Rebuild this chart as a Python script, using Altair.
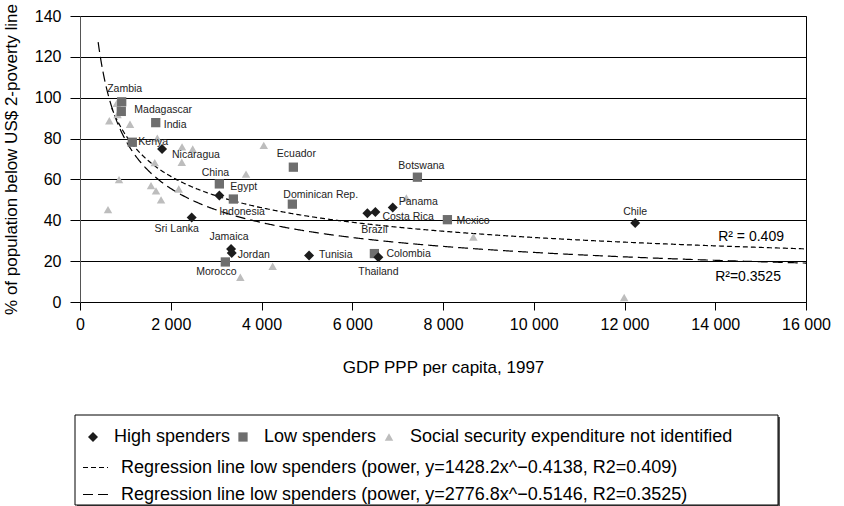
import altair as alt
import pandas as pd

# ---------------------------------------------------------------------------
# Data: GDP PPP per capita (1997) vs. share of population below US$ 2 a day
# ---------------------------------------------------------------------------
GROUPS = ["High spenders", "Low spenders", "Social security expenditure not identified"]

high_countries = ["Nicaragua", "Indonesia", "Sri Lanka", "Jamaica", "Jordan", "Tunisia",
                  "Brazil", "Costa Rica", "Panama", "Thailand", "Chile"]
high_gdp = [1808, 3071, 2462, 3329, 3344, 5048, 6333, 6510, 6893, 6576, 12235]
high_pov = [74.9, 52.1, 41.4, 25.9, 24.0, 22.8, 43.5, 44.0, 46.3, 21.9, 38.7]

low_countries = ["Zambia", "Madagascar", "India", "Kenya", "China", "Egypt", "Ecuador",
                 "Dominican Rep.", "Botswana", "Mexico", "Colombia", "Morocco"]
low_gdp = [919, 910, 1669, 1153, 3071, 3380, 4702, 4680, 7436, 8097, 6488, 3203]
low_pov = [98.0, 93.3, 87.8, 78.2, 57.8, 50.4, 66.0, 47.9, 61.1, 40.3, 23.7, 19.6]

other_gdp = [809, 646, 827, 1102, 1704, 2249, 2484, 2243, 1647, 4050, 3659, 860, 1565,
             1675, 1786, 2176, 617, 4246, 3534, 7193, 8670, 11993]
other_pov = [97.2, 88.7, 91.8, 87.0, 80.2, 75.9, 74.9, 68.4, 68.2, 76.7, 62.6, 59.9, 57.0,
             54.4, 50.0, 55.3, 45.2, 17.5, 12.1, 50.9, 31.8, 2.2]

# Power trendlines y = a * x^b, each drawn from its own starting GDP level
FIT_A = (1428.2, -0.4138)
FIT_B = (2776.8, -0.5146)
FIT_START = {"fit_a": 700, "fit_b": 400}
FIT_LABELS = [
    "Regression line low spenders (power, y=1428.2x^\u22120.4138, R2=0.409)",
    "Regression line low spenders (power, y=2776.8x^\u22120.5146, R2=0.3525)",
]
r2_text = ["R\u00b2 = 0.409", "R\u00b2=0.3525"]
r2_gdp = [14065, 13998]
r2_pov = [32.0, 12.3]

# Country label placement: (align, dx, dy) in pixels
LABEL_STYLE = {
    "Zambia": ("center", 3, -13), "Madagascar": ("left", 13, -1), "India": ("left", 8, 2),
    "Kenya": ("left", 6, 0), "Nicaragua": ("left", 10, 6), "China": ("center", -4, -11),
    "Egypt": ("left", -3, -12), "Indonesia": ("left", 0, 16), "Sri Lanka": ("center", -15, 12),
    "Jamaica": ("center", -2, -12), "Jordan": ("left", 6, 2), "Morocco": ("center", -9, 10),
    "Tunisia": ("left", 10, 0), "Ecuador": ("center", 3, -13), "Dominican Rep.": ("left", -9, -9),
    "Botswana": ("center", 4, -11), "Costa Rica": ("left", 7, 5), "Brazil": ("center", 7, 17),
    "Panama": ("left", 6, -5), "Mexico": ("left", 9, 1), "Colombia": ("left", 12, 0),
    "Thailand": ("center", 0, 15), "Chile": ("center", 0, -11),
}

# ---------------------------------------------------------------------------
pts = pd.concat([
    pd.DataFrame({"country": high_countries, "gdp": high_gdp, "pov": high_pov,
                  "group": GROUPS[0], "rank": 3}),
    pd.DataFrame({"country": low_countries, "gdp": low_gdp, "pov": low_pov,
                  "group": GROUPS[1], "rank": 2}),
    pd.DataFrame({"country": "", "gdp": other_gdp, "pov": other_pov,
                  "group": GROUPS[2], "rank": 1}),
], ignore_index=True)

r2 = pd.DataFrame({"gdp": r2_gdp, "pov": r2_pov, "text": r2_text})

FONT = "Liberation Sans"
W, H = 726, 286

x_scale = alt.Scale(domain=[0, 16000], nice=False, zero=True)
y_scale = alt.Scale(domain=[0, 140], nice=False)

x_axis = alt.Axis(
    values=list(range(0, 16001, 2000)),
    labelExpr="replace(format(datum.value, ','), ',', ' ')",
    grid=False, tickSize=8, labelPadding=6, labelFontSize=16, labelColor="black",
    titleFontSize=17, titleFontWeight="normal", titleColor="black", titlePadding=27,
    domainColor="black", tickColor="black", labelFlush=False,
)
y_axis = alt.Axis(
    values=list(range(0, 141, 20)), grid=True, gridColor="black", gridWidth=1,
    tickSize=10, labelPadding=9, labelFontSize=16, labelColor="black",
    titleFontSize=17, titleFontWeight="normal", titleColor="black", titlePadding=14,
    domainColor="#555555", tickColor="black",
)

x_enc = alt.X("gdp:Q", scale=x_scale, axis=x_axis, title="GDP PPP per capita, 1997")
y_enc = alt.Y("pov:Q", scale=y_scale, axis=y_axis,
              title="% of population below US$ 2-poverty line")

pt_legend = alt.Legend(
    title=None, orient="none", legendX=4, legendY=412, direction="horizontal",
    labelFontSize=18, labelFont=FONT, labelColor="black", symbolSize=50,
    labelOffset=12, columnPadding=3, padding=0, labelLimit=0,
)
fit_legend = alt.Legend(
    title=None, orient="none", legendX=2, legendY=438, direction="vertical",
    labelFontSize=18, labelFont=FONT, labelColor="black", symbolType="stroke",
    symbolSize=625, symbolStrokeWidth=1.2, symbolStrokeColor="black",
    labelOffset=12, rowPadding=4, padding=0, labelLimit=0,
)

# legend frame with a thin shadow
frame_src = pd.DataFrame({"frame": [0]})
shadow = alt.Chart(frame_src).mark_rect(fill="#555555").encode(
    x=alt.value(-3), x2=alt.value(700), y=alt.value(401), y2=alt.value(491))
frame = alt.Chart(frame_src).mark_rect(fill="white", stroke="black", strokeWidth=1).encode(
    x=alt.value(-5), x2=alt.value(698), y=alt.value(399), y2=alt.value(489))

curves = alt.Chart(alt.sequence(400, 16001, 20, as_="gdp")).transform_calculate(
    fit_a=f"datum.gdp >= {FIT_START['fit_a']} ? {FIT_A[0]} * pow(datum.gdp, {FIT_A[1]}) : null",
    fit_b=f"datum.gdp >= {FIT_START['fit_b']} ? {FIT_B[0]} * pow(datum.gdp, {FIT_B[1]}) : null",
).transform_fold(["fit_a", "fit_b"], as_=["fit", "pov"]).transform_filter(
    "isValid(datum.pov)"
).transform_calculate(
    series=f"datum.fit == 'fit_a' ? '{FIT_LABELS[0]}' : '{FIT_LABELS[1]}'"
).mark_line(color="black", strokeWidth=1.2, clip=True).encode(
    x=x_enc, y=y_enc,
    strokeDash=alt.StrokeDash("series:N", legend=fit_legend,
                              scale=alt.Scale(domain=FIT_LABELS, range=[[5, 3], [10, 5]])),
)

points = alt.Chart(pts).mark_point(filled=True, opacity=1, strokeWidth=0).encode(
    x=x_enc, y=y_enc,
    shape=alt.Shape("group:N", legend=pt_legend,
                    scale=alt.Scale(domain=GROUPS, range=["diamond", "square", "triangle-up"])),
    color=alt.Color("group:N", legend=pt_legend,
                    scale=alt.Scale(domain=GROUPS, range=["#1c1c1c", "#6e6e6e", "#bdbdbd"])),
    size=alt.Size("group:N", legend=None,
                  scale=alt.Scale(domain=GROUPS, range=[100, 72, 100])),
    order=alt.Order("rank:Q"),
)

label_layers = []
for name, (align, dx, dy) in LABEL_STYLE.items():
    label_layers.append(
        alt.Chart(pts).transform_filter(alt.datum.country == name).mark_text(
            align=align, baseline="middle", dx=dx, dy=dy, fontSize=10.5,
            font=FONT, color="#222222",
        ).encode(x=x_enc, y=y_enc, text="country:N")
    )

r2_labels = alt.Chart(r2).mark_text(
    align="left", baseline="middle", fontSize=14, font=FONT, color="black"
).encode(x=x_enc, y=y_enc, text="text:N")

chart = alt.layer(
    shadow, frame, curves, points, *label_layers, r2_labels
).properties(
    width=W, height=H,
    autosize=alt.AutoSizeParams(type="none"),
    padding={"left": 80, "top": 16, "right": 844 - 80 - W, "bottom": 506 - 16 - H},
).configure(
    font=FONT,
).configure_view(
    stroke="black", strokeWidth=1,
).resolve_scale(
    shape="shared", color="shared",
)

chart.save("out.html", embed_options={"renderer": "svg", "actions": False})
